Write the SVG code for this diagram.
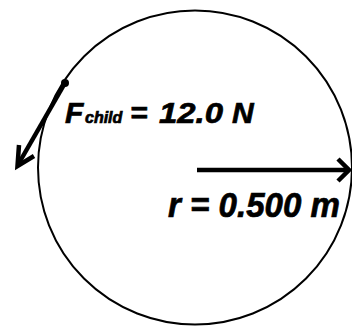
<svg xmlns="http://www.w3.org/2000/svg" width="352" height="326" viewBox="0 0 352 326">
<style>
.lbl{font-family:"Liberation Sans",Arial,sans-serif;font-weight:bold;font-style:italic;fill:#000;stroke:#000;stroke-width:0.7}
.arr{fill:none;stroke:#000;stroke-width:4.5;stroke-linecap:butt;stroke-linejoin:miter}
</style>
<rect width="352" height="326" fill="#fff"/>
<g id="circle">
<circle cx="195" cy="167.5" r="157" fill="none" stroke="#000" stroke-width="2"/>
</g>
<g id="connectors">
<line class="arr" x1="65" y1="83" x2="19" y2="163"/>
<polyline class="arr" points="19,145 17.5,166 34,156"/>
<line class="arr" x1="197" y1="170" x2="348" y2="170"/>
<polyline class="arr" points="338,159 349,170 338,181"/>
</g>
<g id="dot">
<circle cx="65" cy="83" r="4" fill="#000"/>
</g>
<g id="force-label">
<text class="lbl" x="65" y="123" font-size="30">F<tspan font-size="16" x="85">child</tspan><tspan x="130">=</tspan><tspan x="159" textLength="64" lengthAdjust="spacingAndGlyphs">12.0</tspan><tspan x="232">N</tspan></text>
</g>
<g id="radius-label">
<text class="lbl" x="168" y="217" font-size="35" textLength="172" lengthAdjust="spacingAndGlyphs">r = 0.500 m</text>
</g>
</svg>
